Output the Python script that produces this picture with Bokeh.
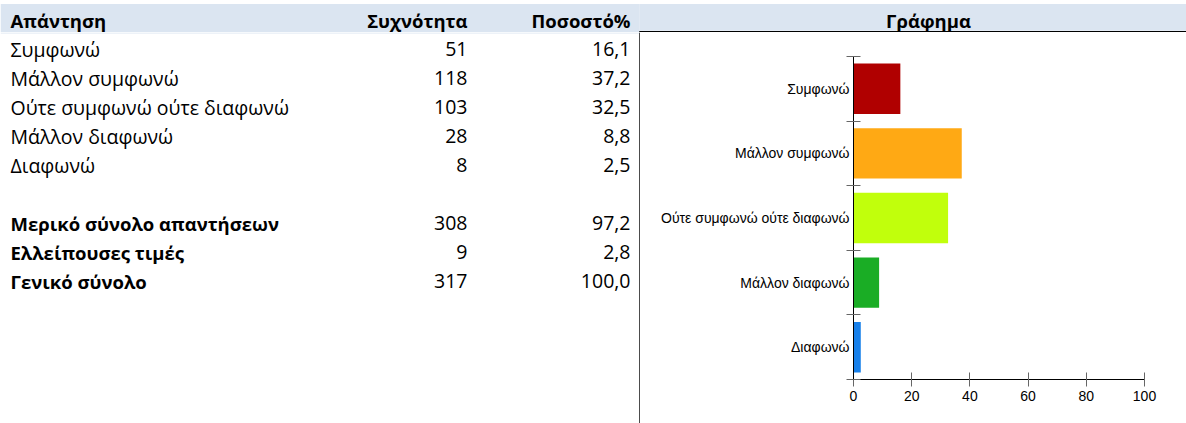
from bokeh.plotting import figure
from bokeh.layouts import row, column
from bokeh.models import Range1d, FixedTicker, ColumnDataSource
from bokeh.core.properties import value
from bokeh.embed import file_html
from bokeh.resources import INLINE

# ---------------- data ----------------
header = ["Απάντηση", "Συχνότητα", "Ποσοστό%"]
answers = ["Συμφωνώ", "Μάλλον συμφωνώ", "Ούτε συμφωνώ ούτε διαφωνώ", "Μάλλον διαφωνώ", "Διαφωνώ"]
freq = [51, 118, 103, 28, 8]
pct = [16.1, 37.2, 32.5, 8.8, 2.5]
summary_labels = ["Μερικό σύνολο απαντήσεων", "Ελλείπουσες τιμές", "Γενικό σύνολο"]
summary_freq = [308, 9, 317]
summary_pct = [97.2, 2.8, 100.0]
chart_title = "Γράφημα"
bar_colors = ["#b00000", "#ffa914", "#c1ff0c", "#1aad25", "#1880ea"]
x_ticks = [0, 20, 40, 60, 80, 100]

# ---------------- layout constants ----------------
TABLE_FONT = "Open Sans"
TFS = "19.5px"
TFS_B = "18.5px"
ROW_H = 29
FIRST_MID = 48.5
HEAD_MID = 19.5
X_LABEL = 10
X_FREQ = 467
X_PCT = 630
X_TITLE = 928
HEAD_BG = "#dbe5f1"
W, H = 1186, 423
SPLIT = 640
BOX_X = 639.3
HEAD_H = 32


def fmt(v):
    return f"{v:.1f}".replace(".", ",")


def blank_fig(w, h, x0, x1, y0, y1):
    f = figure(width=w, height=h, x_range=Range1d(x0, x1), y_range=Range1d(y1, y0),
               output_backend="svg", toolbar_location=None,
               x_axis_type=None, y_axis_type=None, min_border=0)
    f.grid.visible = False
    f.outline_line_color = None
    f.background_fill_color = "white"
    f.border_fill_color = "white"
    f.frame_align = False
    return f


# ---------------- header row (full width) ----------------
hdr = blank_fig(W, HEAD_H, 0, W, 0, HEAD_H)
hdr.quad(left=[0], right=[BOX_X], top=[3.5], bottom=[HEAD_H], fill_color=HEAD_BG, line_color=None)
hdr.quad(left=[BOX_X], right=[W], top=[3.5], bottom=[30.3], fill_color=HEAD_BG, line_color=None)
hdr.segment(x0=[BOX_X], x1=[W], y0=[31], y1=[31], line_color="black", line_width=1)
hdr.segment(x0=[BOX_X], x1=[BOX_X], y0=[30.5], y1=[HEAD_H], line_color="black", line_width=1)
hdr.text(x=[X_LABEL], y=[HEAD_MID], text=[header[0]], text_font=value(TABLE_FONT),
         text_font_size=TFS_B, text_font_style="bold", text_align="left", text_baseline="middle")
hdr.text(x=[X_FREQ, X_PCT], y=[HEAD_MID, HEAD_MID], text=header[1:], text_font=value(TABLE_FONT),
         text_font_size=TFS_B, text_font_style="bold", text_align="right", text_baseline="middle")
hdr.text(x=[X_TITLE], y=[HEAD_MID], text=[chart_title], text_font=value(TABLE_FONT),
         text_font_size=TFS_B, text_font_style="bold", text_align="center", text_baseline="middle")

# ---------------- table body ----------------
t = blank_fig(SPLIT, H - HEAD_H, 0, SPLIT, HEAD_H, H)
t.quad(left=[0], right=[BOX_X], top=[HEAD_H], bottom=[33], fill_color=HEAD_BG, line_color=None)
t.segment(x0=[BOX_X], x1=[BOX_X], y0=[HEAD_H], y1=[H], line_color="black", line_width=1)

rows_y = [FIRST_MID + i * ROW_H for i in range(len(answers))]
src = ColumnDataSource(dict(y=rows_y, lab=answers, f=[str(v) for v in freq], p=[fmt(v) for v in pct],
                            xl=[X_LABEL] * len(answers), xf=[X_FREQ] * len(answers), xp=[X_PCT] * len(answers)))
t.text(x="xl", y="y", text="lab", source=src, text_font=value(TABLE_FONT), text_font_size=TFS,
       text_align="left", text_baseline="middle")
t.text(x="xf", y="y", text="f", source=src, text_font=value(TABLE_FONT), text_font_size=TFS,
       text_align="right", text_baseline="middle")
t.text(x="xp", y="y", text="p", source=src, text_font=value(TABLE_FONT), text_font_size=TFS,
       text_align="right", text_baseline="middle")

sy = [FIRST_MID + (len(answers) + 1 + i) * ROW_H for i in range(len(summary_labels))]
src2 = ColumnDataSource(dict(y=sy, lab=summary_labels, f=[str(v) for v in summary_freq],
                             p=[fmt(v) for v in summary_pct],
                             xl=[X_LABEL] * 3, xf=[X_FREQ] * 3, xp=[X_PCT] * 3))
t.text(x="xl", y="y", text="lab", source=src2, text_font=value(TABLE_FONT), text_font_size=TFS_B,
       text_font_style="bold", text_align="left", text_baseline="middle")
t.text(x="xf", y="y", text="f", source=src2, text_font=value(TABLE_FONT), text_font_size=TFS,
       text_align="right", text_baseline="middle")
t.text(x="xp", y="y", text="p", source=src2, text_font=value(TABLE_FONT), text_font_size=TFS,
       text_align="right", text_baseline="middle")

# ---------------- bar chart ----------------
n = len(answers)
centers = [i + 0.5 for i in range(n)]
c = figure(width=W - SPLIT, height=H - HEAD_H, x_range=Range1d(0, 100), y_range=Range1d(n, 0),
           output_backend="svg", toolbar_location=None,
           min_border_left=213, min_border_right=42, min_border_top=24, min_border_bottom=44)
c.frame_align = False
c.grid.visible = False
c.outline_line_color = None
c.hbar(y=centers, right=pct, height=0.78, left=0, fill_color=bar_colors, line_color=None)

CH_FONT = "Liberation Sans"
xa = c.xaxis[0]
xa.ticker = FixedTicker(ticks=x_ticks, minor_ticks=[])
xa.axis_line_color = "black"
xa.major_tick_line_color = "#666666"
xa.major_tick_in = 7
xa.major_tick_out = 7
xa.minor_tick_line_color = None
xa.major_label_text_font = CH_FONT
xa.major_label_text_font_size = "14px"
xa.major_label_text_color = "black"
xa.major_label_standoff = 4

ya = c.yaxis[0]
ya.ticker = FixedTicker(ticks=centers, minor_ticks=list(range(n + 1)))
ya.major_label_overrides = {cc: lab for cc, lab in zip(centers, answers)}
ya.axis_line_color = "black"
ya.major_tick_line_color = None
ya.major_tick_in = 0
ya.major_tick_out = 0
ya.minor_tick_line_color = "#666666"
ya.minor_tick_in = 7
ya.minor_tick_out = 7
ya.major_label_text_font = CH_FONT
ya.major_label_text_font_size = "14px"
ya.major_label_text_color = "black"
ya.major_label_standoff = -3

layout = column(hdr, row(t, c, spacing=0), spacing=0)

open("out.html", "w").write(file_html(layout, INLINE))
